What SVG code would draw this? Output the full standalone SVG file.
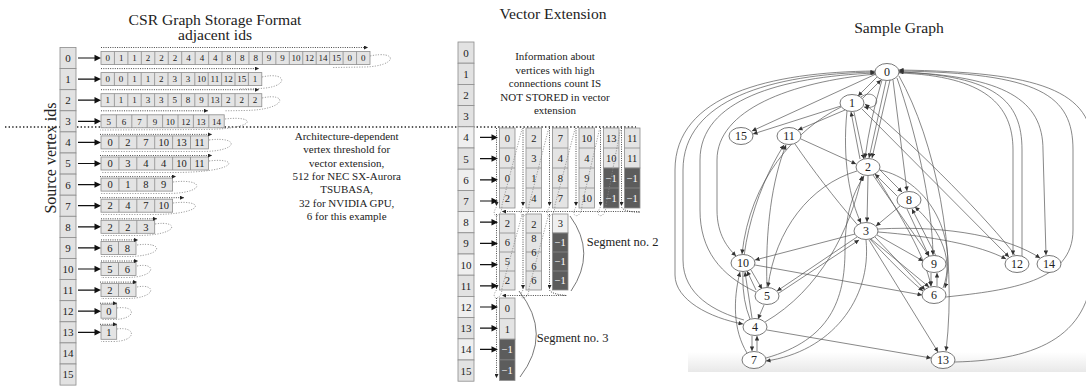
<svg xmlns="http://www.w3.org/2000/svg" width="1086" height="388" viewBox="0 0 1086 388">
<defs>
<marker id="da" viewBox="0 0 10 10" refX="10" refY="5" markerUnits="userSpaceOnUse" markerWidth="4" markerHeight="4" orient="auto"><path d="M0,0 L10,5 L0,10 z" fill="#222"/></marker>
<marker id="ga" viewBox="0 0 10 10" refX="10" refY="5" markerUnits="userSpaceOnUse" markerWidth="5" markerHeight="4.5" orient="auto"><path d="M0,0 L10,5 L0,10 z" fill="#333"/></marker>
<linearGradient id="sh" x1="0" y1="0" x2="0" y2="1"><stop offset="0" stop-color="#e6e6e6" stop-opacity="0"/><stop offset="1" stop-color="#e6e6e6" stop-opacity="0.9"/></linearGradient>
</defs>
<style>
.t{font-family:"Liberation Serif","Times New Roman",serif;fill:#222}
.ti{font-size:15.6px;text-anchor:middle}
.lb{font-size:11px;text-anchor:middle}
.s9{font-size:9px;text-anchor:middle}
.s10{font-size:10.5px;text-anchor:middle}
.w{fill:#fff}
.cell{fill:#e4e4e4;stroke:#8c8c8c;stroke-width:0.8}
.col{fill:#e2e2e2;stroke:#8c8c8c;stroke-width:0.8}
.lt{fill:#efefef;stroke:#8c8c8c;stroke-width:0.8}
.dk{fill:#5c5c5c;stroke:#8c8c8c;stroke-width:0.8}
.sep{fill:none;stroke:#8c8c8c;stroke-width:0.8}
.ra{fill:#111;stroke:none}
.dota{fill:none;stroke:#333;stroke-width:0.9;stroke-dasharray:1 1.3;marker-end:url(#da)}
.lp{fill:none;stroke:#888;stroke-width:0.8;stroke-dasharray:1.2 1.4}
.br{fill:none;stroke:#555;stroke-width:0.8}
.e{fill:none;stroke:#555;stroke-width:0.7;marker-end:url(#ga)}
.nd{fill:#fff;stroke:#555;stroke-width:0.8}
.nl{font-size:12px;text-anchor:middle}
</style>
<rect width="1086" height="388" fill="#fff"/>

<text class="t ti" x="215" y="25">CSR Graph Storage Format</text>
<text class="t ti" x="215" y="40">adjacent ids</text>
<text class="t ti" x="553" y="19">Vector Extension</text>
<text class="t ti" x="899" y="33">Sample Graph</text>
<text class="t" font-size="16" text-anchor="middle" transform="translate(55.5,158) rotate(-90)">Source vertex ids</text>

<path d="M5,127 H636" fill="none" stroke="#222" stroke-width="1.4" stroke-dasharray="1.4 2.2"/>

<g id="csr-vertex-column">
<rect class="col" x="60" y="47.5" width="16" height="21.1"/><rect class="col" x="60" y="68.6" width="16" height="21.1"/><rect class="col" x="60" y="89.7" width="16" height="21.1"/><rect class="col" x="60" y="110.8" width="16" height="21.1"/>
<rect class="col" x="60" y="131.9" width="16" height="21.1"/><rect class="col" x="60" y="153" width="16" height="21.1"/><rect class="col" x="60" y="174.1" width="16" height="21.1"/><rect class="col" x="60" y="195.2" width="16" height="21.1"/>
<rect class="col" x="60" y="216.3" width="16" height="21.1"/><rect class="col" x="60" y="237.4" width="16" height="21.1"/><rect class="col" x="60" y="258.5" width="16" height="21.1"/><rect class="col" x="60" y="279.6" width="16" height="21.1"/>
<rect class="col" x="60" y="300.7" width="16" height="21.1"/><rect class="col" x="60" y="321.8" width="16" height="21.1"/><rect class="col" x="60" y="342.9" width="16" height="21.1"/><rect class="col" x="60" y="364" width="16" height="21.1"/>
<g class="t lb">
<text x="68" y="61.9">0</text><text x="68" y="83">1</text><text x="68" y="104.1">2</text><text x="68" y="125.2">3</text><text x="68" y="146.3">4</text><text x="68" y="167.4">5</text><text x="68" y="188.5">6</text><text x="68" y="209.6">7</text><text x="68" y="230.7">8</text><text x="68" y="251.8">9</text><text x="68" y="272.9">10</text><text x="68" y="294">11</text><text x="68" y="315.1">12</text><text x="68" y="336.2">13</text><text x="68" y="357.3">14</text><text x="68" y="378.4">15</text>
</g>
</g>

<g id="csr-row-0">
<rect class="cell" x="101" y="51.5" width="269" height="13"/>
<path class="sep" d="M114.45,51.5v13M127.9,51.5v13M141.35,51.5v13M154.8,51.5v13M168.25,51.5v13M181.7,51.5v13M195.15,51.5v13M208.6,51.5v13M222.05,51.5v13M235.5,51.5v13M248.95,51.5v13M262.4,51.5v13M275.85,51.5v13M289.3,51.5v13M302.75,51.5v13M316.2,51.5v13M329.65,51.5v13M343.1,51.5v13M356.55,51.5v13"/>
<g class="t s9"><text x="107.7" y="61.2">0</text><text x="121.2" y="61.2">1</text><text x="134.6" y="61.2">1</text><text x="148.1" y="61.2">2</text><text x="161.5" y="61.2">2</text><text x="175" y="61.2">2</text><text x="188.4" y="61.2">4</text><text x="201.9" y="61.2">4</text><text x="215.3" y="61.2">4</text><text x="228.8" y="61.2">8</text><text x="242.2" y="61.2">8</text><text x="255.7" y="61.2">8</text><text x="269.1" y="61.2">9</text><text x="282.6" y="61.2">9</text><text x="296" y="61.2">10</text><text x="309.5" y="61.2">12</text><text x="322.9" y="61.2">14</text><text x="336.4" y="61.2">15</text><text x="349.8" y="61.2">0</text><text x="363.3" y="61.2">0</text></g>
</g>
<g id="csr-row-1">
<rect class="cell" x="101" y="72.6" width="160.8" height="13"/>
<path class="sep" d="M114.4,72.6v13M127.8,72.6v13M141.2,72.6v13M154.6,72.6v13M168,72.6v13M181.4,72.6v13M194.8,72.6v13M208.2,72.6v13M221.6,72.6v13M235,72.6v13M248.4,72.6v13"/>
<g class="t s9"><text x="107.7" y="82.3">0</text><text x="121.1" y="82.3">0</text><text x="134.5" y="82.3">1</text><text x="147.9" y="82.3">1</text><text x="161.3" y="82.3">2</text><text x="174.7" y="82.3">3</text><text x="188.1" y="82.3">3</text><text x="201.5" y="82.3">10</text><text x="214.9" y="82.3">11</text><text x="228.3" y="82.3">12</text><text x="241.7" y="82.3">15</text><text x="255.1" y="82.3">1</text></g>
</g>
<g id="csr-row-2">
<rect class="cell" x="101" y="93.7" width="160.8" height="13"/>
<path class="sep" d="M114.4,93.7v13M127.8,93.7v13M141.2,93.7v13M154.6,93.7v13M168,93.7v13M181.4,93.7v13M194.8,93.7v13M208.2,93.7v13M221.6,93.7v13M235,93.7v13M248.4,93.7v13"/>
<g class="t s9"><text x="107.7" y="103.4">1</text><text x="121.1" y="103.4">1</text><text x="134.5" y="103.4">1</text><text x="147.9" y="103.4">3</text><text x="161.3" y="103.4">3</text><text x="174.7" y="103.4">5</text><text x="188.1" y="103.4">8</text><text x="201.5" y="103.4">9</text><text x="214.9" y="103.4">13</text><text x="228.3" y="103.4">2</text><text x="241.7" y="103.4">2</text><text x="255.1" y="103.4">2</text></g>
</g>
<g id="csr-row-3">
<rect class="cell" x="101" y="114.8" width="123.2" height="13"/>
<path class="sep" d="M116.4,114.8v13M131.8,114.8v13M147.2,114.8v13M162.6,114.8v13M178,114.8v13M193.4,114.8v13M208.8,114.8v13"/>
<g class="t s9"><text x="108.7" y="124.5">5</text><text x="124.1" y="124.5">6</text><text x="139.5" y="124.5">7</text><text x="154.9" y="124.5">9</text><text x="170.3" y="124.5">10</text><text x="185.7" y="124.5">12</text><text x="201.1" y="124.5">13</text><text x="216.5" y="124.5">14</text></g>
</g>
<g id="csr-row-4">
<rect class="cell" x="101" y="135.9" width="107.4" height="13"/>
<path class="sep" d="M118.9,135.9v13M136.8,135.9v13M154.7,135.9v13M172.6,135.9v13M190.5,135.9v13"/>
<g class="t s10"><text x="110" y="146.1">0</text><text x="127.9" y="146.1">2</text><text x="145.8" y="146.1">7</text><text x="163.7" y="146.1">10</text><text x="181.6" y="146.1">13</text><text x="199.5" y="146.1">11</text></g>
</g>
<g id="csr-row-5">
<rect class="cell" x="101" y="157" width="107.4" height="13"/>
<path class="sep" d="M118.9,157v13M136.8,157v13M154.7,157v13M172.6,157v13M190.5,157v13"/>
<g class="t s10"><text x="110" y="167.2">0</text><text x="127.9" y="167.2">3</text><text x="145.8" y="167.2">4</text><text x="163.7" y="167.2">4</text><text x="181.6" y="167.2">10</text><text x="199.5" y="167.2">11</text></g>
</g>
<g id="csr-row-6">
<rect class="cell" x="101" y="178.1" width="71.6" height="13"/>
<path class="sep" d="M118.9,178.1v13M136.8,178.1v13M154.7,178.1v13"/>
<g class="t s10"><text x="110" y="188.3">0</text><text x="127.9" y="188.3">1</text><text x="145.8" y="188.3">8</text><text x="163.7" y="188.3">9</text></g>
</g>
<g id="csr-row-7">
<rect class="cell" x="101" y="199.2" width="71.6" height="13"/>
<path class="sep" d="M118.9,199.2v13M136.8,199.2v13M154.7,199.2v13"/>
<g class="t s10"><text x="110" y="209.4">2</text><text x="127.9" y="209.4">4</text><text x="145.8" y="209.4">7</text><text x="163.7" y="209.4">10</text></g>
</g>
<g id="csr-row-8">
<rect class="cell" x="101" y="220.3" width="53.7" height="13"/>
<path class="sep" d="M118.9,220.3v13M136.8,220.3v13"/>
<g class="t s10"><text x="110" y="230.5">2</text><text x="127.9" y="230.5">2</text><text x="145.8" y="230.5">3</text></g>
</g>
<g id="csr-row-9">
<rect class="cell" x="101" y="241.4" width="35" height="13"/>
<path class="sep" d="M118.5,241.4v13"/>
<g class="t s10"><text x="109.75" y="251.6">6</text><text x="127.25" y="251.6">8</text></g>
</g>
<g id="csr-row-10">
<rect class="cell" x="101" y="262.5" width="35" height="13"/>
<path class="sep" d="M118.5,262.5v13"/>
<g class="t s10"><text x="109.75" y="272.7">5</text><text x="127.25" y="272.7">6</text></g>
</g>
<g id="csr-row-11">
<rect class="cell" x="101" y="283.6" width="35" height="13"/>
<path class="sep" d="M118.5,283.6v13"/>
<g class="t s10"><text x="109.75" y="293.8">2</text><text x="127.25" y="293.8">6</text></g>
</g>
<g id="csr-row-12">
<rect class="cell" x="101" y="304.2" width="15.7" height="14"/>
<text class="t s10" x="108.85" y="314.9">0</text>
</g>
<g id="csr-row-13">
<rect class="cell" x="101" y="325.3" width="15.7" height="14"/>
<text class="t s10" x="108.85" y="336">1</text>
</g>

<g id="csr-traversal">
<path class="dota" d="M101,47.5 H368"/>
<path class="dota" d="M101,68.6 H259"/>
<path class="dota" d="M101,89.7 H259"/>
<path class="dota" d="M101,110.8 H208"/>
<path class="dota" d="M100,134.4 H212"/>
<path class="dota" d="M100,155.5 H212"/>
<path class="dota" d="M100,176.6 H176"/>
<path class="dota" d="M100,197.7 H184"/>
<path class="dota" d="M101,218.8 H157"/>
<path class="dota" d="M101,239.9 H138"/>
<path class="dota" d="M101,261 H138"/>
<path class="dota" d="M100,282.1 H137"/>
<path class="dota" d="M100,303.2 H117"/>
<path class="dota" d="M100,324.3 H117"/>
<path class="lp" d="M370,56 C398,50 398,66 365,67 L333,67.5"/>
<path class="lp" d="M262,77 C288,71 290,88 258,88.5 L240,89"/>
<path class="lp" d="M262,98 C288,92 288,110 245,110.5 L225,110.8"/>
<path class="lp" d="M225,119 C258,115 258,130 200,129.5 L100,130"/>
<path class="lp" d="M209,140 C240,136 240,152 200,151.5 L101,151.5"/>
<path class="lp" d="M209,161 C240,157 240,173 170,172.5 L101,172.5"/>
<path class="lp" d="M173,182 C206,178 206,194 165,193.5 L101,193.5"/>
<path class="lp" d="M173,203 C206,199 206,215 150,214.5 L101,214.5"/>
<path class="lp" d="M155,224 C180,220 180,236 135,235.5 L101,235.5"/>
<path class="lp" d="M137,245 C165,241 165,257 125,256.5 L101,256.5"/>
<path class="lp" d="M137,266 C157,262 157,278 125,277.5 L101,277.5"/>
<path class="lp" d="M137,287 C157,283 157,299 125,298.5 L101,298.5"/>
<path class="lp" d="M117,308 C137,305 137,320 112,319.5 L101,319.5"/>
<path class="lp" d="M117,329 C137,326 137,342 112,341.5 L101,341.5"/>
</g>

<text class="t" font-size="11" text-anchor="middle"><tspan x="346.7" y="139.8">Architecture-dependent</tspan><tspan x="346.7" y="153.2">vertex threshold for</tspan><tspan x="346.7" y="166.6">vector extension,</tspan><tspan x="346.7" y="180">512 for NEC SX-Aurora</tspan><tspan x="346.7" y="193.4">TSUBASA,</tspan><tspan x="346.7" y="206.8">32 for NVIDIA GPU,</tspan><tspan x="346.7" y="220.2">6 for this example</tspan></text>

<g id="ve-vertex-column">
<rect class="col" x="458" y="42" width="16" height="21.2"/><rect class="col" x="458" y="63.2" width="16" height="21.2"/><rect class="col" x="458" y="84.4" width="16" height="21.2"/><rect class="col" x="458" y="105.6" width="16" height="21.2"/>
<rect class="lt" x="458" y="126.8" width="16" height="21.2"/><rect class="col" x="458" y="148" width="16" height="21.2"/><rect class="lt" x="458" y="169.2" width="16" height="21.2"/><rect class="col" x="458" y="190.4" width="16" height="21.2"/>
<rect class="lt" x="458" y="211.6" width="16" height="21.2"/><rect class="col" x="458" y="232.8" width="16" height="21.2"/><rect class="lt" x="458" y="254" width="16" height="21.2"/><rect class="col" x="458" y="275.2" width="16" height="21.2"/>
<rect class="lt" x="458" y="296.4" width="16" height="21.2"/><rect class="col" x="458" y="317.6" width="16" height="21.2"/><rect class="lt" x="458" y="338.8" width="16" height="21.2"/><rect class="col" x="458" y="360" width="16" height="21.2"/>
<g class="t lb">
<text x="466" y="56.5">0</text><text x="466" y="77.7">1</text><text x="466" y="98.9">2</text><text x="466" y="120.1">3</text><text x="466" y="141.3">4</text><text x="466" y="162.5">5</text><text x="466" y="183.7">6</text><text x="466" y="204.9">7</text><text x="466" y="226.1">8</text><text x="466" y="247.3">9</text><text x="466" y="268.5">10</text><text x="466" y="289.7">11</text><text x="466" y="310.9">12</text><text x="466" y="332.1">13</text><text x="466" y="353.3">14</text><text x="466" y="374.5">15</text>
</g>
</g>
<text class="t" font-size="11" text-anchor="middle"><tspan x="555" y="60.2">Information about</tspan><tspan x="555" y="73.7">vertices with high</tspan><tspan x="555" y="87.2">connections count IS</tspan><tspan x="555" y="100.7">NOT STORED in vector</tspan><tspan x="555" y="114.2">extension</tspan></text>

<g id="segment-1">
<rect class="cell" x="499.5" y="128" width="15.5" height="80"/>
<rect class="cell" x="526" y="128" width="15.5" height="80"/>
<rect class="cell" x="552.5" y="128" width="15.5" height="80"/>
<rect class="cell" x="579" y="128" width="15.5" height="80"/>
<rect class="cell" x="603.5" y="128" width="15.5" height="40"/><rect class="dk" x="603.5" y="168" width="15.5" height="40"/>
<rect class="cell" x="624.5" y="128" width="15.5" height="40"/><rect class="dk" x="624.5" y="168" width="15.5" height="40"/>
<path class="sep" d="M499.5,148h15.5M499.5,168h15.5M499.5,188h15.5M526,148h15.5M526,168h15.5M526,188h15.5M552.5,148h15.5M552.5,168h15.5M552.5,188h15.5M579,148h15.5M579,168h15.5M579,188h15.5M603.5,148h15.5M603.5,188h15.5M624.5,148h15.5M624.5,188h15.5"/>
<g class="t s10">
<text x="507.25" y="141.7">0</text><text x="507.25" y="161.7">0</text><text x="507.25" y="181.7">0</text><text x="507.25" y="201.7">2</text>
<text x="533.75" y="141.7">2</text><text x="533.75" y="161.7">3</text><text x="533.75" y="181.7">1</text><text x="533.75" y="201.7">4</text>
<text x="560.25" y="141.7">7</text><text x="560.25" y="161.7">4</text><text x="560.25" y="181.7">8</text><text x="560.25" y="201.7">7</text>
<text x="586.75" y="141.7">10</text><text x="586.75" y="161.7">4</text><text x="586.75" y="181.7">9</text><text x="586.75" y="201.7">10</text>
<text x="611.25" y="141.7">13</text><text x="611.25" y="161.7">10</text><text class="w" x="611.25" y="181.7">−1</text><text class="w" x="611.25" y="201.7">−1</text>
<text x="632.25" y="141.7">11</text><text x="632.25" y="161.7">11</text><text class="w" x="632.25" y="181.7">−1</text><text class="w" x="632.25" y="201.7">−1</text>
</g>
</g>
<g id="segment-2">
<rect class="cell" x="499.5" y="214" width="15.5" height="76"/>
<rect class="cell" x="526" y="214" width="15.5" height="76"/>
<rect class="lt" x="552.5" y="214" width="15.5" height="19"/><rect class="dk" x="552.5" y="233" width="15.5" height="57"/>
<path class="sep" d="M499.5,233h15.5M499.5,252h15.5M499.5,271h15.5M526,233h15.5M526,252h15.5M526,271h15.5M552.5,252h15.5M552.5,271h15.5"/>
<g class="t s10">
<text x="507.25" y="227.2">2</text><text x="507.25" y="246.2">6</text><text x="507.25" y="265.2">5</text><text x="507.25" y="284.2">2</text>
<text x="533.75" y="228.2">2</text><text x="533.75" y="242.2">8</text><text x="533.75" y="256.2">6</text><text x="533.75" y="270.2">6</text><text x="533.75" y="284.2">6</text>
<text x="560.25" y="227.2">3</text><text class="w" x="560.25" y="246.2">−1</text><text class="w" x="560.25" y="265.2">−1</text><text class="w" x="560.25" y="284.2">−1</text>
</g>
</g>
<g id="segment-3">
<rect class="cell" x="499.5" y="298" width="15.5" height="41.2"/><rect class="dk" x="499.5" y="339.2" width="15.5" height="41.2"/>
<path class="sep" d="M499.5,318.6h15.5M499.5,359.8h15.5"/>
<g class="t s10"><text x="507.25" y="312">0</text><text x="507.25" y="332.6">1</text><text class="w" x="507.25" y="353.2">−1</text><text class="w" x="507.25" y="373.8">−1</text></g>
</g>

<g id="ve-traversal">
<path class="dota" d="M496.5,128 V206"/><path class="dota" d="M523,128 V206"/><path class="dota" d="M549.5,128 V206"/><path class="dota" d="M576,128 V206"/><path class="dota" d="M600.5,128 V206"/><path class="dota" d="M621.5,128 V206"/>
<path class="lp" d="M496.5,207 C489,218 502,220 502,205 L522,129"/>
<path class="lp" d="M523,207 C516,218 529,220 529,205 L548.5,129"/>
<path class="lp" d="M549.5,207 C542,218 555,220 555,205 L575,129"/>
<path class="lp" d="M576,207 C569,218 582,220 582,205 L599.5,129"/>
<path class="lp" d="M600.5,207 C593,218 606,220 606,205 L620.5,129"/>
<path class="dota" d="M621.5,207 C624,214 652,212 634,211.5 L502,211.5"/>
<path class="dota" d="M496.5,214 V289"/><path class="dota" d="M523,214 V289"/><path class="dota" d="M549.5,214 V289"/>
<path class="lp" d="M496.5,290 C489,300 502,302 502,288 L522,215"/>
<path class="lp" d="M523,290 C516,300 529,302 529,288 L548.5,215"/>
<path class="dota" d="M549.5,290 C552,296 576,295.5 562,295.5 L502,295.5"/>
<path class="dota" d="M496.5,298 V378"/>
</g>
<path class="br" d="M570,216 Q597,253 571,291"/>
<path class="br" d="M519,291 Q553,334 520,377"/>
<text class="t" font-size="12.5" x="586.7" y="246">Segment no. 2</text>
<text class="t" font-size="12.5" x="536.7" y="341.5">Segment no. 3</text>

<rect x="688" y="352" width="398" height="20" fill="url(#sh)"/>
<g id="edges">
<path class="e" d="M877,77 L858,96"/>
<path class="e" d="M861,100 L881,80"/>
<path class="e" d="M882,80 Q870,120 865,158"/>
<path class="e" d="M886,81 L869,158"/>
<path class="e" d="M890,80 L872,158"/>
<path class="e" d="M893,80 L907,191"/>
<path class="e" d="M897,78 C915,130 932,200 933,255"/>
<path class="e" d="M899,76 C935,140 958,250 946,351"/>
<path class="e" d="M876,74 L752,131"/>
<path class="e" d="M841,106 L753,134"/>
<path class="e" d="M845,110 L798,130"/>
<path class="e" d="M854,112 L864,159"/>
<path class="e" d="M860,159 L851,112"/>
<path class="e" d="M847,111 C842,160 850,200 861,223"/>
<path class="e" d="M861,97 C877,86 885,111 864,107"/>
<path class="e" d="M841,107 C795,130 750,180 742,254"/>
<path class="e" d="M862,109 L1009,257"/>
<path class="e" d="M1015,255 C990,222 920,150 865,104"/>
<path class="e" d="M801,139 L856,164"/>
<path class="e" d="M795,144 C830,195 880,255 923,291"/>
<path class="e" d="M880,170 L902,192"/>
<path class="e" d="M897,196 L875,174"/>
<path class="e" d="M868,176 L867,222"/>
<path class="e" d="M873,175 L929,256"/>
<path class="e" d="M875,174 C900,215 925,255 931,286"/>
<path class="e" d="M880,170 C925,180 958,230 945,288"/>
<path class="e" d="M943,288 C956,255 935,225 915,207"/>
<path class="e" d="M900,206 L876,226"/>
<path class="e" d="M907,209 L929,256"/>
<path class="e" d="M936,256 L912,209"/>
<path class="e" d="M931,273 L931,286"/>
<path class="e" d="M937,286 L937,273"/>
<path class="e" d="M855,234 L755,260"/>
<path class="e" d="M857,237 L777,291"/>
<path class="e" d="M779,293 L859,240"/>
<path class="e" d="M877,235 L923,261"/>
<path class="e" d="M875,237 L925,290"/>
<path class="e" d="M871,239 L929,287"/>
<path class="e" d="M878,232 C930,236 980,245 1006,259"/>
<path class="e" d="M878,229 C950,225 1010,238 1040,258"/>
<path class="e" d="M869,240 L938,352"/>
<path class="e" d="M866,240 C872,300 830,352 766,361"/>
<path class="e" d="M755,265 L922,295"/>
<path class="e" d="M751,270 L762,289"/>
<path class="e" d="M756,290 L747,271"/>
<path class="e" d="M764,305 L758,319"/>
<path class="e" d="M767,287 C765,230 772,180 786,145"/>
<path class="e" d="M750,319 C730,270 755,190 784,145"/>
<path class="e" d="M752,318 L745,272"/>
<path class="e" d="M747,353 C733,330 733,300 740,272"/>
<path class="e" d="M752,336 L752,351"/>
<path class="e" d="M757,351 L757,336"/>
<path class="e" d="M767,330 L931,358"/>
<path class="e" d="M765,322 C820,290 850,230 862,176"/>
<path class="e" d="M766,358 C830,340 845,300 845,250 C845,210 855,190 864,176"/>
<path class="e" d="M857,171 C810,185 775,230 768,287"/>
<path class="e" d="M875,71 C770,72 675,95 675,170 L675,275 C675,300 710,318 743,324"/>
<path class="e" d="M744,320 C715,312 683,295 683,260 L683,170 C683,100 770,74 875,72"/>
<path class="e" d="M756,292 C720,275 700,250 700,210 L700,160 C700,100 780,77 875,73"/>
<path class="e" d="M876,74 C790,82 717,110 717,160 L717,210 C717,235 728,248 736,256"/>
<path class="e" d="M899,73 C985,76 1013,105 1013,150 L1013,255"/>
<path class="e" d="M1022,256 L1022,150 C1022,100 995,76 899,72"/>
<path class="e" d="M899,72 C1005,76 1043,100 1043,150 L1046,255"/>
<path class="e" d="M946,297 C1010,290 1073,282 1073,230 L1073,150 C1073,95 1040,73 899,71"/>
<path class="e" d="M955,362 C1040,360 1093,335 1093,260 L1093,150 C1093,90 1040,72 899,70"/>
</g>
<g id="node-0"><ellipse class="nd" cx="887" cy="72" rx="12" ry="8.5"/><text class="t nl" x="887" y="76.2">0</text></g>
<g id="node-1"><ellipse class="nd" cx="852" cy="103" rx="12" ry="8.5"/><text class="t nl" x="852" y="107.2">1</text></g>
<g id="node-15"><ellipse class="nd" cx="741" cy="136" rx="12" ry="8.5"/><text class="t nl" x="741" y="140.2">15</text></g>
<g id="node-11"><ellipse class="nd" cx="789" cy="136" rx="12" ry="8.5"/><text class="t nl" x="789" y="140.2">11</text></g>
<g id="node-2"><ellipse class="nd" cx="868" cy="167" rx="12" ry="8.5"/><text class="t nl" x="868" y="171.2">2</text></g>
<g id="node-8"><ellipse class="nd" cx="909" cy="200" rx="12" ry="8.5"/><text class="t nl" x="909" y="204.2">8</text></g>
<g id="node-3"><ellipse class="nd" cx="866" cy="231" rx="12" ry="8.5"/><text class="t nl" x="866" y="235.2">3</text></g>
<g id="node-10"><ellipse class="nd" cx="743" cy="263" rx="12" ry="8.5"/><text class="t nl" x="743" y="267.2">10</text></g>
<g id="node-9"><ellipse class="nd" cx="934" cy="264" rx="12" ry="8.5"/><text class="t nl" x="934" y="268.2">9</text></g>
<g id="node-12"><ellipse class="nd" cx="1017" cy="264" rx="12" ry="8.5"/><text class="t nl" x="1017" y="268.2">12</text></g>
<g id="node-14"><ellipse class="nd" cx="1049" cy="264" rx="12" ry="8.5"/><text class="t nl" x="1049" y="268.2">14</text></g>
<g id="node-5"><ellipse class="nd" cx="767" cy="296" rx="12" ry="8.5"/><text class="t nl" x="767" y="300.2">5</text></g>
<g id="node-6"><ellipse class="nd" cx="934" cy="295" rx="12" ry="8.5"/><text class="t nl" x="934" y="299.2">6</text></g>
<g id="node-4"><ellipse class="nd" cx="755" cy="327" rx="12" ry="8.5"/><text class="t nl" x="755" y="331.2">4</text></g>
<g id="node-7"><ellipse class="nd" cx="754" cy="360" rx="12" ry="8.5"/><text class="t nl" x="754" y="364.2">7</text></g>
<g id="node-13"><ellipse class="nd" cx="943" cy="360" rx="12" ry="8.5"/><text class="t nl" x="943" y="364.2">13</text></g>

<g id="csr-row-arrows">
<path class="ra" d="M78,57.4h16.5v-2.6l6.5,3.2l-6.5,3.2v-2.6h-16.5z"/>
<path class="ra" d="M78,78.5h16.5v-2.6l6.5,3.2l-6.5,3.2v-2.6h-16.5z"/>
<path class="ra" d="M78,99.6h16.5v-2.6l6.5,3.2l-6.5,3.2v-2.6h-16.5z"/>
<path class="ra" d="M78,120.7h16.5v-2.6l6.5,3.2l-6.5,3.2v-2.6h-16.5z"/>
<path class="ra" d="M78,141.8h16.5v-2.6l6.5,3.2l-6.5,3.2v-2.6h-16.5z"/>
<path class="ra" d="M78,162.9h16.5v-2.6l6.5,3.2l-6.5,3.2v-2.6h-16.5z"/>
<path class="ra" d="M78,184h16.5v-2.6l6.5,3.2l-6.5,3.2v-2.6h-16.5z"/>
<path class="ra" d="M78,205.1h16.5v-2.6l6.5,3.2l-6.5,3.2v-2.6h-16.5z"/>
<path class="ra" d="M78,226.2h16.5v-2.6l6.5,3.2l-6.5,3.2v-2.6h-16.5z"/>
<path class="ra" d="M78,247.3h16.5v-2.6l6.5,3.2l-6.5,3.2v-2.6h-16.5z"/>
<path class="ra" d="M78,268.4h16.5v-2.6l6.5,3.2l-6.5,3.2v-2.6h-16.5z"/>
<path class="ra" d="M78,289.5h16.5v-2.6l6.5,3.2l-6.5,3.2v-2.6h-16.5z"/>
<path class="ra" d="M78,310.6h16.5v-2.6l6.5,3.2l-6.5,3.2v-2.6h-16.5z"/>
<path class="ra" d="M78,331.7h16.5v-2.6l6.5,3.2l-6.5,3.2v-2.6h-16.5z"/>
</g>
<g id="ve-row-arrows">
<path class="ra" d="M480,136.8h11.5v-2.6l6.5,3.2l-6.5,3.2v-2.6h-11.5z"/>
<path class="ra" d="M480,158h11.5v-2.6l6.5,3.2l-6.5,3.2v-2.6h-11.5z"/>
<path class="ra" d="M480,179.2h11.5v-2.6l6.5,3.2l-6.5,3.2v-2.6h-11.5z"/>
<path class="ra" d="M480,200.4h11.5v-2.6l6.5,3.2l-6.5,3.2v-2.6h-11.5z"/>
<path class="ra" d="M480,221.6h11.5v-2.6l6.5,3.2l-6.5,3.2v-2.6h-11.5z"/>
<path class="ra" d="M480,242.8h11.5v-2.6l6.5,3.2l-6.5,3.2v-2.6h-11.5z"/>
<path class="ra" d="M480,264h11.5v-2.6l6.5,3.2l-6.5,3.2v-2.6h-11.5z"/>
<path class="ra" d="M480,285.2h11.5v-2.6l6.5,3.2l-6.5,3.2v-2.6h-11.5z"/>
<path class="ra" d="M480,306.4h11.5v-2.6l6.5,3.2l-6.5,3.2v-2.6h-11.5z"/>
<path class="ra" d="M480,327.6h11.5v-2.6l6.5,3.2l-6.5,3.2v-2.6h-11.5z"/>
<path class="ra" d="M480,348.8h11.5v-2.6l6.5,3.2l-6.5,3.2v-2.6h-11.5z"/>
</g>
</svg>
